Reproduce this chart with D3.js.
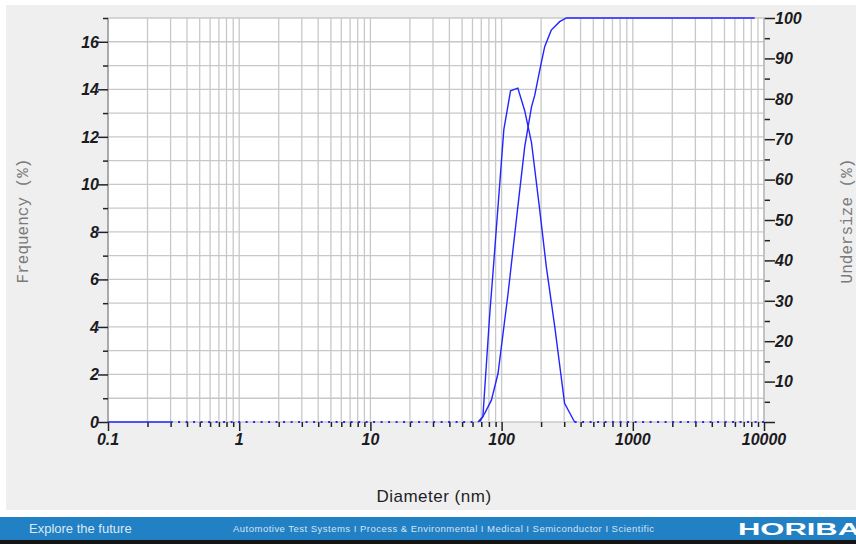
<!DOCTYPE html>
<html lang="en">

<head>
  <meta charset="UTF-8">
  <title>Particle size distribution</title>
  <script src="https://d3js.org/d3.v7.min.js"></script>
  <style>
    body { margin: 0; background: #fff; }
    svg { display: block; }
  </style>
</head>

<body>
  <svg id="chart" width="856" height="544"></svg>
  <script>
    // frequency curve (%)
    let freqDiam = [66, 72, 81, 87.5, 94, 104, 117, 133, 150, 169, 195, 219, 254, 302, 360];
    let freqValues = [0, 0.22, 4.45, 6.84, 9.1, 12.3, 13.94, 14.05, 13.1, 11.76, 8.95, 6.55, 4.02, 0.79, 0];

    // undersize (cumulative %) curve
    let underDiam = [68, 74.3, 83.6, 93.9, 112, 133, 150, 169, 179, 195, 213, 239, 277, 312, 8500];
    let underValues = [0, 2.15, 5.4, 12, 31.8, 53.3, 68.1, 78, 80.9, 87, 92.9, 97, 99.1, 100, 100];

    // zero parts of the frequency line: solid bit, then dotted bits
    let zeroSolid = [0.1, 0.3];
    let zeroDotted = [[0.3, 66], [360, 10000]];

    let xLabels = [0.1, 1, 10, 100, 1000, 10000];
    let freqLabels = [0, 2, 4, 6, 8, 10, 12, 14, 16];
    let underLabels = [10, 20, 30, 40, 50, 60, 70, 80, 90, 100];

    let svg = d3.select('#chart');

    let x = d3.scaleLog().domain([0.1, 10000]).range([108, 764]);
    let yF = d3.scaleLinear().domain([0, 17]).range([422, 18]);
    let yU = d3.scaleLinear().domain([0, 100]).range([422, 18]);

    // gray panel + footer
    svg.append('rect').attr('x', 6).attr('y', 5).attr('width', 850).attr('height', 505).attr('fill', '#efefef');
    svg.append('rect').attr('x', 0).attr('y', 517).attr('width', 856).attr('height', 23).attr('fill', '#2280c4');
    svg.append('rect').attr('x', 0).attr('y', 540).attr('width', 856).attr('height', 4).attr('fill', '#151515');

    // plot area
    svg.append('rect')
      .attr('x', x(0.1)).attr('y', yF(17))
      .attr('width', x(10000) - x(0.1)).attr('height', yF(0) - yF(17))
      .attr('fill', '#fff');

    // log ticks: 1..9 for every decade
    let logTicks = [];
    for (let e = -1; e < 4; e++) {
      for (let m = 1; m < 10; m++) {
        logTicks.push(m * Math.pow(10, e));
      }
    }
    logTicks.push(10000);

    let grid = svg.append('g').attr('stroke', '#c8c8c8').attr('stroke-width', 1.3);

    grid.selectAll('line.v')
      .data(logTicks)
      .join('line')
      .attr('class', 'v')
      .attr('x1', function (d) { return x(d); })
      .attr('x2', function (d) { return x(d); })
      .attr('y1', yF(17))
      .attr('y2', yF(0));

    grid.selectAll('line.h')
      .data(d3.range(0, 18))
      .join('line')
      .attr('class', 'h')
      .attr('x1', x(0.1))
      .attr('x2', x(10000))
      .attr('y1', function (d) { return yF(d); })
      .attr('y2', function (d) { return yF(d); });

    // left frame line
    svg.append('line')
      .attr('x1', x(0.1)).attr('x2', x(0.1))
      .attr('y1', yF(17)).attr('y2', yF(0))
      .attr('stroke', '#aaa').attr('stroke-width', 2);

    // axes, drawn by hand with d3 axis generators
    let labelFont = 'italic bold 16px "Liberation Sans", Arial, sans-serif';

    let xAxis = d3.axisBottom(x)
      .tickValues(logTicks)
      .tickSize(5)
      .tickFormat('');
    let gx = svg.append('g').attr('transform', 'translate(0,' + yF(0) + ')').call(xAxis);
    gx.select('.domain').remove();
    gx.selectAll('.tick line')
      .attr('stroke', '#222').attr('stroke-width', 1.5)
      .attr('y2', function (d) { return xLabels.indexOf(d) >= 0 ? 9 : 5; });

    svg.append('g').selectAll('text')
      .data(xLabels)
      .join('text')
      .attr('x', function (d) { return x(d); })
      .attr('y', 445)
      .attr('text-anchor', 'middle')
      .style('font', labelFont)
      .attr('fill', '#1b1b22')
      .text(function (d) { return d; });

    let leftAxis = d3.axisLeft(yF)
      .tickValues(d3.range(0, 18))
      .tickFormat('');
    let gl = svg.append('g').attr('transform', 'translate(' + x(0.1) + ',0)').call(leftAxis);
    gl.select('.domain').remove();
    gl.selectAll('.tick line')
      .attr('stroke', '#222').attr('stroke-width', 1.5)
      .attr('x2', function (d) { return d % 2 === 0 ? -10 : -5; });

    svg.append('g').selectAll('text')
      .data(freqLabels)
      .join('text')
      .attr('x', 99)
      .attr('y', function (d) { return yF(d); })
      .attr('dy', '0.36em')
      .attr('text-anchor', 'end')
      .style('font', labelFont)
      .attr('fill', '#1b1b22')
      .text(function (d) { return d; });

    let rightAxis = d3.axisRight(yU)
      .tickValues(d3.range(0, 101, 5))
      .tickFormat('');
    let gr = svg.append('g').attr('transform', 'translate(' + x(10000) + ',0)').call(rightAxis);
    gr.select('.domain').remove();
    gr.selectAll('.tick line')
      .attr('stroke', '#222').attr('stroke-width', 1.5)
      .attr('x2', function (d) { return d % 10 === 0 ? 11 : 6; });

    svg.append('line')
      .attr('x1', x(10000)).attr('x2', x(10000))
      .attr('y1', yF(17)).attr('y2', yF(0))
      .attr('stroke', '#bbb').attr('stroke-width', 1.5);

    svg.append('g').selectAll('text')
      .data(underLabels)
      .join('text')
      .attr('x', 775)
      .attr('y', function (d) { return yU(d); })
      .attr('dy', '0.36em')
      .style('font', labelFont)
      .attr('fill', '#1b1b22')
      .text(function (d) { return d; });

    // series
    let blue = '#2424ff';

    let freqLine = d3.line()
      .x(function (d, i) { return x(freqDiam[i]); })
      .y(function (d) { return yF(d); });

    let underLine = d3.line()
      .x(function (d, i) { return x(underDiam[i]); })
      .y(function (d) { return yU(d); });

    svg.append('line')
      .attr('x1', x(zeroSolid[0])).attr('x2', x(zeroSolid[1]))
      .attr('y1', yF(0)).attr('y2', yF(0))
      .attr('stroke', blue).attr('stroke-width', 1.5);

    svg.append('g').selectAll('line')
      .data(zeroDotted)
      .join('line')
      .attr('x1', function (d) { return x(d[0]); })
      .attr('x2', function (d) { return x(d[1]); })
      .attr('y1', yF(0))
      .attr('y2', yF(0))
      .attr('stroke', blue)
      .attr('stroke-width', 2)
      .attr('stroke-dasharray', '2,5.5');

    svg.append('path')
      .attr('d', freqLine(freqValues))
      .attr('fill', 'none')
      .attr('stroke', blue)
      .attr('stroke-width', 1.4);

    svg.append('path')
      .attr('d', underLine(underValues))
      .attr('fill', 'none')
      .attr('stroke', blue)
      .attr('stroke-width', 1.4);

    // axis titles
    let monoFont = '16px "Liberation Mono", "DejaVu Sans Mono", monospace';

    svg.append('text')
      .attr('transform', 'translate(28,221) rotate(-90)')
      .attr('text-anchor', 'middle')
      .style('font', monoFont)
      .attr('fill', '#7a7a7a')
      .text('Frequency (%)');

    svg.append('text')
      .attr('transform', 'translate(852,221) rotate(-90)')
      .attr('text-anchor', 'middle')
      .style('font', monoFont)
      .attr('fill', '#7a7a7a')
      .text('Undersize (%)');

    svg.append('text')
      .attr('x', 434)
      .attr('y', 502)
      .attr('text-anchor', 'middle')
      .style('font', '17px "Liberation Sans", Arial, sans-serif')
      .style('letter-spacing', '0.5px')
      .attr('fill', '#1e1e28')
      .text('Diameter (nm)');

    // footer
    svg.append('text')
      .attr('x', 29).attr('y', 533)
      .style('font', '13px "Liberation Sans", Arial, sans-serif')
      .attr('fill', '#dbe9f6')
      .text('Explore the future');

    svg.append('text')
      .attr('x', 233).attr('y', 532)
      .attr('textLength', 421)
      .attr('lengthAdjust', 'spacing')
      .style('font', '9.5px "Liberation Sans", Arial, sans-serif')
      .attr('fill', '#d4e5f4')
      .text('Automotive Test Systems   I   Process & Environmental   I   Medical   I   Semiconductor   I   Scientific');

    svg.append('text')
      .attr('x', 738).attr('y', 535)
      .attr('textLength', 122)
      .attr('lengthAdjust', 'spacingAndGlyphs')
      .style('font', 'bold 16px "Liberation Sans", Arial, sans-serif')
      .attr('fill', '#fff')
      .text('HORIBA');
  </script>
</body>

</html>
